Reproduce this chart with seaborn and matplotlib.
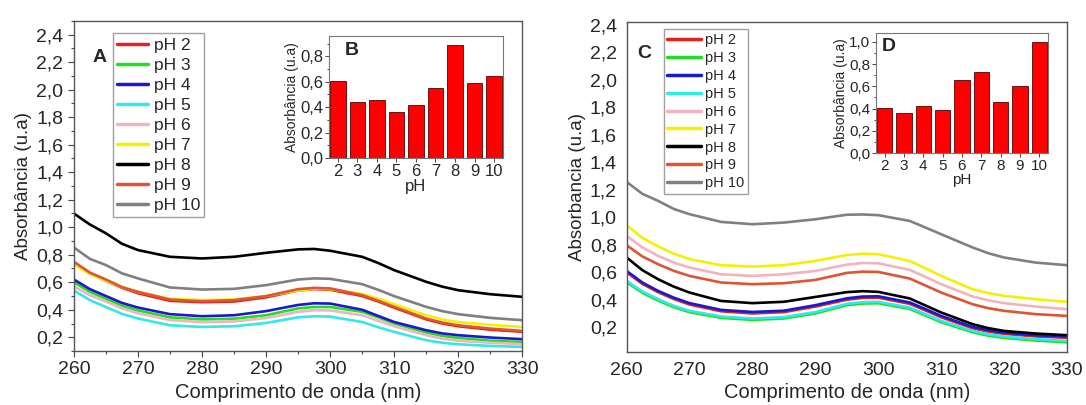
import numpy as np
import pandas as pd
import matplotlib
matplotlib.use("Agg")
import matplotlib.pyplot as plt
from matplotlib.ticker import FuncFormatter, MultipleLocator, AutoMinorLocator
import seaborn as sns

# dados
wavelengths = [260, 262.5, 265, 267.5, 270, 275, 280, 285, 290, 295, 297.5,
               300, 305, 307.5, 310, 315, 317.5, 320, 325, 330]
ph_labels = ["pH 2", "pH 3", "pH 4", "pH 5", "pH 6", "pH 7", "pH 8", "pH 9", "pH 10"]
ph_colors = ["#e3201c", "#22dd22", "#1a1acc", "#33e8e8", "#f0b4bc",
             "#f2f200", "#000000", "#dd5535", "#808080"]

# painel A
a_ph2 = [0.74, 0.665, 0.61, 0.56, 0.52, 0.465, 0.455, 0.46, 0.49, 0.54, 0.55, 0.545, 0.50, 0.46, 0.415, 0.33, 0.30, 0.28, 0.255, 0.24]
a_ph3 = [0.60, 0.53, 0.48, 0.43, 0.395, 0.345, 0.33, 0.335, 0.36, 0.41, 0.42, 0.42, 0.385, 0.345, 0.30, 0.235, 0.21, 0.195, 0.175, 0.165]
a_ph4 = [0.62, 0.55, 0.50, 0.45, 0.416, 0.368, 0.353, 0.36, 0.39, 0.435, 0.447, 0.445, 0.40, 0.355, 0.311, 0.251, 0.228, 0.215, 0.198, 0.186]
a_ph5 = [0.54, 0.47, 0.42, 0.37, 0.336, 0.287, 0.275, 0.28, 0.304, 0.345, 0.353, 0.35, 0.311, 0.273, 0.239, 0.178, 0.16, 0.149, 0.137, 0.13]
a_ph6 = [0.57, 0.505, 0.46, 0.41, 0.375, 0.325, 0.31, 0.315, 0.34, 0.385, 0.397, 0.395, 0.36, 0.32, 0.28, 0.215, 0.19, 0.175, 0.16, 0.15]
a_ph7 = [0.73, 0.66, 0.61, 0.565, 0.53, 0.48, 0.47, 0.475, 0.50, 0.54, 0.553, 0.55, 0.515, 0.48, 0.44, 0.36, 0.33, 0.31, 0.29, 0.275]
a_ph8 = [1.10, 1.02, 0.956, 0.88, 0.834, 0.785, 0.773, 0.785, 0.814, 0.839, 0.842, 0.829, 0.785, 0.74, 0.688, 0.603, 0.568, 0.542, 0.513, 0.494]
a_ph9 = [0.749, 0.67, 0.62, 0.565, 0.53, 0.474, 0.462, 0.47, 0.499, 0.55, 0.559, 0.555, 0.506, 0.465, 0.421, 0.336, 0.307, 0.287, 0.263, 0.246]
a_ph10 = [0.853, 0.77, 0.725, 0.665, 0.628, 0.562, 0.547, 0.552, 0.579, 0.62, 0.628, 0.625, 0.586, 0.545, 0.499, 0.421, 0.39, 0.368, 0.341, 0.324]

# painel C
c_ph2 = [0.60, 0.515, 0.455, 0.405, 0.365, 0.316, 0.30, 0.31, 0.35, 0.40, 0.413, 0.415, 0.37, 0.322, 0.272, 0.192, 0.168, 0.152, 0.133, 0.123]
c_ph3 = [0.527, 0.45, 0.394, 0.345, 0.309, 0.268, 0.253, 0.263, 0.30, 0.36, 0.372, 0.374, 0.333, 0.285, 0.236, 0.163, 0.138, 0.122, 0.103, 0.09]
c_ph4 = [0.609, 0.525, 0.464, 0.415, 0.375, 0.326, 0.311, 0.32, 0.36, 0.41, 0.423, 0.425, 0.38, 0.332, 0.282, 0.202, 0.178, 0.161, 0.142, 0.132]
c_ph5 = [0.537, 0.46, 0.404, 0.355, 0.319, 0.278, 0.263, 0.273, 0.31, 0.37, 0.382, 0.384, 0.343, 0.295, 0.246, 0.173, 0.148, 0.132, 0.113, 0.10]
c_ph6 = [0.864, 0.78, 0.719, 0.67, 0.634, 0.585, 0.573, 0.585, 0.609, 0.655, 0.667, 0.665, 0.617, 0.566, 0.513, 0.423, 0.395, 0.375, 0.35, 0.331]
c_ph7 = [0.942, 0.85, 0.787, 0.735, 0.695, 0.651, 0.641, 0.651, 0.682, 0.725, 0.735, 0.731, 0.682, 0.628, 0.573, 0.476, 0.448, 0.428, 0.404, 0.384]
c_ph8 = [0.707, 0.615, 0.549, 0.495, 0.452, 0.391, 0.375, 0.385, 0.42, 0.455, 0.462, 0.457, 0.409, 0.358, 0.307, 0.222, 0.193, 0.173, 0.154, 0.142]
c_ph9 = [0.796, 0.715, 0.658, 0.61, 0.573, 0.525, 0.513, 0.52, 0.544, 0.595, 0.604, 0.602, 0.554, 0.503, 0.452, 0.367, 0.338, 0.319, 0.295, 0.282]
c_ph10 = [1.257, 1.17, 1.119, 1.06, 1.022, 0.966, 0.949, 0.961, 0.985, 1.018, 1.02, 1.015, 0.973, 0.925, 0.876, 0.78, 0.738, 0.707, 0.67, 0.651]

# insets B e D
bar_ph = ["2", "3", "4", "5", "6", "7", "8", "9", "10"]
bars_b = [0.604, 0.44, 0.46, 0.358, 0.418, 0.551, 0.886, 0.59, 0.643]
bars_d = [0.404, 0.36, 0.42, 0.386, 0.66, 0.73, 0.46, 0.60, 1.0]

sns.set_style("white")
plt.rcParams["font.family"] = ["Liberation Sans", "DejaVu Sans"]

comma = FuncFormatter(lambda v, p: f"{v:.1f}".replace(".", ","))


def long_df(series):
    rows = []
    for lab, vals in zip(ph_labels, series):
        for w, v in zip(wavelengths, vals):
            rows.append({"wl": w, "abs": v, "pH": lab})
    return pd.DataFrame(rows)


def spectra(ax, series, ylim, ylabel, letter, letter_pos, leg_fs, leg_sp, leg_hl,
            leg_anchor, ticks_out):
    df = long_df(series)
    sns.lineplot(data=df, x="wl", y="abs", hue="pH", palette=ph_colors,
                 hue_order=ph_labels, linewidth=1.9, ax=ax)
    ax.set_xlim(260, 330)
    ax.set_ylim(*ylim)
    ax.yaxis.set_major_locator(MultipleLocator(0.2))
    ax.yaxis.set_major_formatter(comma)
    ax.xaxis.set_major_locator(MultipleLocator(10))
    ax.set_xlabel("Comprimento de onda (nm)", fontsize=14.5, labelpad=3)
    ax.set_ylabel(ylabel, fontsize=13.5, labelpad=3)
    ax.tick_params(labelsize=14)
    if ticks_out:
        ax.xaxis.set_minor_locator(AutoMinorLocator(2))
        ax.yaxis.set_minor_locator(AutoMinorLocator(2))
        ax.tick_params(which="major", direction="out", length=4, width=0.8,
                       left=True, bottom=True, color="#444444")
        ax.tick_params(which="minor", direction="out", length=2.5, width=0.8,
                       left=True, bottom=True, color="#444444")
    for s in ax.spines.values():
        s.set_color("#555555")
        s.set_linewidth(1.0)
    handles, labels = ax.get_legend_handles_labels()
    leg = ax.legend(handles, labels, loc="upper left", bbox_to_anchor=leg_anchor,
                    fontsize=leg_fs, frameon=True, fancybox=False,
                    handlelength=leg_hl, handletextpad=0.3, labelspacing=leg_sp,
                    borderpad=0.25, borderaxespad=0)
    leg.get_frame().set_edgecolor("#888888")
    leg.get_frame().set_linewidth(1.0)
    for ln in leg.get_lines():
        ln.set_linewidth(2.5)
    ax.text(letter_pos[0], letter_pos[1], letter, transform=ax.transAxes,
            fontsize=14, fontweight="bold", va="center")


def inset(ax, values, ylim, letter, letter_pos, tick_fs, lab_fs):
    sns.barplot(x=bar_ph, y=values, color="#ff0000", edgecolor="#550000",
                linewidth=0.6, width=0.8, saturation=1, ax=ax)
    ax.set_xlim(-0.45, 8.45)
    ax.set_ylim(*ylim)
    ax.yaxis.set_major_locator(MultipleLocator(0.2))
    ax.yaxis.set_minor_locator(AutoMinorLocator(2))
    ax.yaxis.set_major_formatter(comma)
    ax.set_xlabel("pH", fontsize=tick_fs, labelpad=0)
    ax.set_ylabel("Absorbância (u.a)", fontsize=lab_fs, labelpad=1)
    ax.tick_params(labelsize=tick_fs, pad=1)
    ax.tick_params(which="major", direction="out", length=3, width=0.7,
                   left=True, bottom=True, color="#444444")
    ax.tick_params(which="minor", direction="out", length=1.8, width=0.7,
                   left=True, color="#444444")
    for s in ax.spines.values():
        s.set_color("#777777")
        s.set_linewidth(0.8)
    ax.text(letter_pos[0], letter_pos[1], letter, transform=ax.transAxes,
            fontsize=14, fontweight="bold", va="center")


fig = plt.figure(figsize=(10.86, 4.05), dpi=100)

ax_a = fig.add_axes([0.068, 0.1333, 0.413, 0.815])
spectra(ax_a, [a_ph2, a_ph3, a_ph4, a_ph5, a_ph6, a_ph7, a_ph8, a_ph9, a_ph10],
        (0.1, 2.5), "Absorbância (u.a)", "A", (0.042, 0.89),
        12.5, 0.28, 1.8, (0.087, 0.963), True)

ax_c = fig.add_axes([0.577, 0.131, 0.4055, 0.8147])
spectra(ax_c, [c_ph2, c_ph3, c_ph4, c_ph5, c_ph6, c_ph7, c_ph8, c_ph9, c_ph10],
        (0.02, 2.42), "Absorbancia (u.a)", "C", (0.023, 0.906),
        10.5, 0.27, 2.3, (0.084, 0.978), False)

ax_b = fig.add_axes([0.303, 0.61, 0.160, 0.301])
inset(ax_b, bars_b, (0, 0.96), "B", (0.092, 0.885), 12, 10)

ax_d = fig.add_axes([0.8066, 0.622, 0.1584, 0.2965])
inset(ax_d, bars_d, (0, 1.08), "D", (0.035, 0.89), 11, 10)

fig.savefig("out.png", dpi=100)
